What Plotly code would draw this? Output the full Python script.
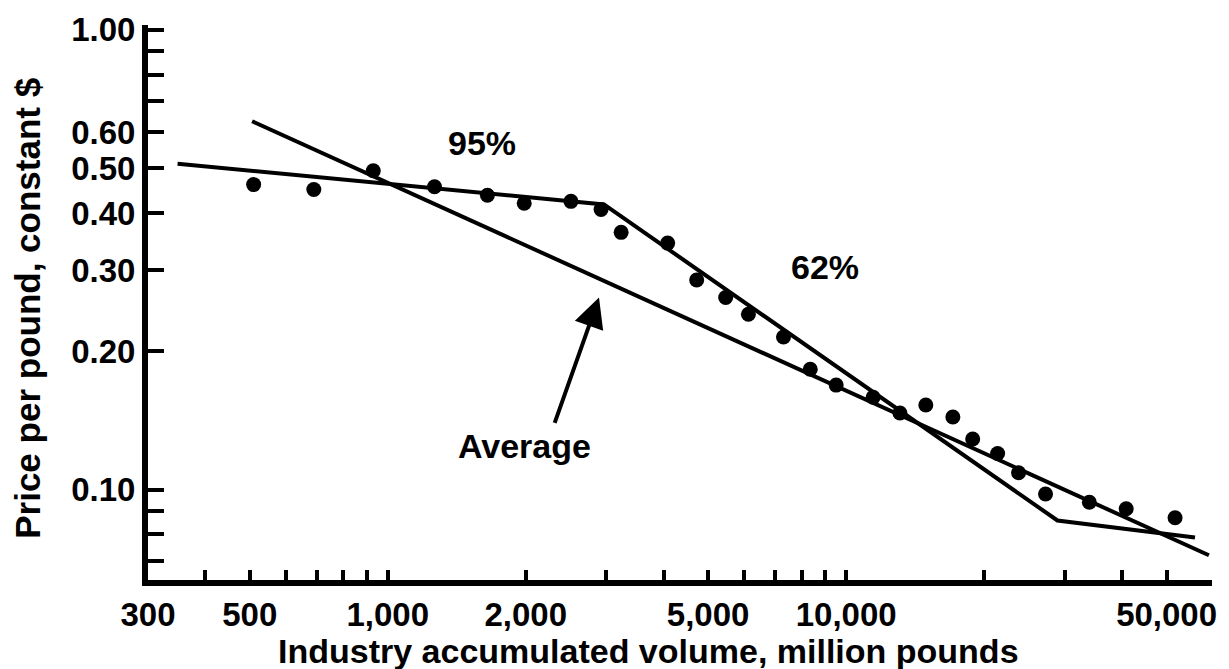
import numpy as np
import plotly.graph_objects as go

# Observed points: industry accumulated volume (million pounds) vs price per pound (constant $)
volume = [510, 690, 930, 1265, 1650, 1985, 2510, 2920, 3230, 4080, 4720, 5460,
          6120, 7300, 8350, 9510, 11450, 13100, 14920, 17090, 18880, 21400,
          23770, 27220, 33920, 40820, 52170]
price = [0.461, 0.450, 0.494, 0.456, 0.437, 0.420, 0.424, 0.407, 0.363, 0.344,
         0.286, 0.262, 0.241, 0.215, 0.183, 0.169, 0.159, 0.147, 0.153, 0.144,
         0.129, 0.120, 0.109, 0.098, 0.094, 0.091, 0.087]

# Piecewise experience curve (95% segment, 62% segment, final flattening)
segment_volume = [348, 2963, 28900, 57670]
segment_price = [0.512, 0.4175, 0.0858, 0.0788]

# Average experience curve
average_volume = [506, 61840]
average_price = [0.633, 0.0721]

# Axis ticks
x_tickvals = [300, 400, 500, 600, 700, 800, 900, 1000, 2000, 3000, 4000, 5000,
              6000, 7000, 8000, 9000, 10000, 20000, 30000, 40000, 50000]
x_labels = {300: "300", 500: "500", 1000: "1,000", 2000: "2,000",
            5000: "5,000", 10000: "10,000", 50000: "50,000"}
y_tickvals = [0.07, 0.08, 0.09, 0.10, 0.20, 0.30, 0.40, 0.50, 0.60, 0.70, 0.80, 0.90, 1.00]
y_labels = {0.10: "0.10", 0.20: "0.20", 0.30: "0.30", 0.40: "0.40",
            0.50: "0.50", 0.60: "0.60", 1.00: "1.00"}

# Text labels
label_95 = ("95%", 1604, 0.569)
label_62 = ("62%", 8985, 0.305)
label_avg = ("Average", 1986, 0.1245)
arrow_tip = (2890, 0.2619)
arrow_tail = (2307, 0.1388)

FONT = "Liberation Sans"
L, R, T, B = 148, 14, 20, 89
W, H = 1229, 669

fig = go.Figure()
fig.add_trace(go.Scatter(x=average_volume, y=average_price, mode="lines",
                         line=dict(color="black", width=4), hoverinfo="skip"))
fig.add_trace(go.Scatter(x=segment_volume, y=segment_price, mode="lines",
                         line=dict(color="black", width=4), hoverinfo="skip"))
fig.add_trace(go.Scatter(x=volume, y=price, mode="markers",
                         marker=dict(color="black", size=15, line=dict(width=0))))

annotations = []
for text, xv, yv in (label_95, label_62, label_avg):
    annotations.append(dict(x=np.log10(xv), y=np.log10(yv), xref="x", yref="y",
                            text=text, showarrow=False,
                            font=dict(family=FONT, size=34, color="black", weight="bold"),
                            xanchor="center", yanchor="middle"))
annotations.append(dict(x=np.log10(arrow_tip[0]), y=np.log10(arrow_tip[1]),
                        ax=np.log10(arrow_tail[0]), ay=np.log10(arrow_tail[1]),
                        xref="x", yref="y", axref="x", ayref="y", text="",
                        showarrow=True, arrowhead=2, arrowsize=1.5, arrowwidth=4,
                        arrowcolor="black", standoff=0, startstandoff=0))
annotations.append(dict(text="Industry accumulated volume, million pounds",
                        x=(650 - L) / (W - L - R), y=(H - B - 652) / (H - T - B),
                        xref="paper", yref="paper", showarrow=False,
                        xanchor="center", yanchor="middle",
                        font=dict(family=FONT, size=34, color="black", weight="bold")))
annotations.append(dict(text="Price per pound, constant $", textangle=-90,
                        x=(27 - L) / (W - L - R), y=(H - B - 306) / (H - T - B),
                        xref="paper", yref="paper", showarrow=False,
                        xanchor="center", yanchor="middle",
                        font=dict(family=FONT, size=35, color="black", weight="bold")))

fig.update_layout(
    width=W, height=H,
    margin=dict(l=L, r=R, t=T, b=B, pad=0),
    paper_bgcolor="white", plot_bgcolor="white",
    showlegend=False,
    font=dict(family=FONT, size=33, color="black", weight="bold"),
    annotations=annotations,
)
fig.update_xaxes(type="log", range=[np.log10(300), 4.798],
                 tickmode="array", tickvals=x_tickvals,
                 ticktext=[x_labels.get(v, "") for v in x_tickvals],
                 ticks="inside", ticklen=10, tickwidth=4, tickcolor="black",
                 showline=True, linewidth=6, linecolor="black",
                 showgrid=False, zeroline=False, ticklabelstandoff=0,
                 tickfont=dict(family=FONT, size=33, color="black", weight="bold"))
fig.update_yaxes(type="log", range=[np.log10(0.0637), np.log10(1.025)],
                 tickmode="array", tickvals=y_tickvals,
                 ticktext=[y_labels.get(v, "") for v in y_tickvals],
                 ticks="inside", ticklen=16, tickwidth=4, tickcolor="black",
                 showline=True, linewidth=6, linecolor="black",
                 showgrid=False, zeroline=False, ticklabelstandoff=0,
                 tickfont=dict(family=FONT, size=33, color="black", weight="bold"))

fig.write_html("out.html", config={"displayModeBar": False},
               post_script="document.body.style.margin='0';document.body.style.overflow='hidden';")
